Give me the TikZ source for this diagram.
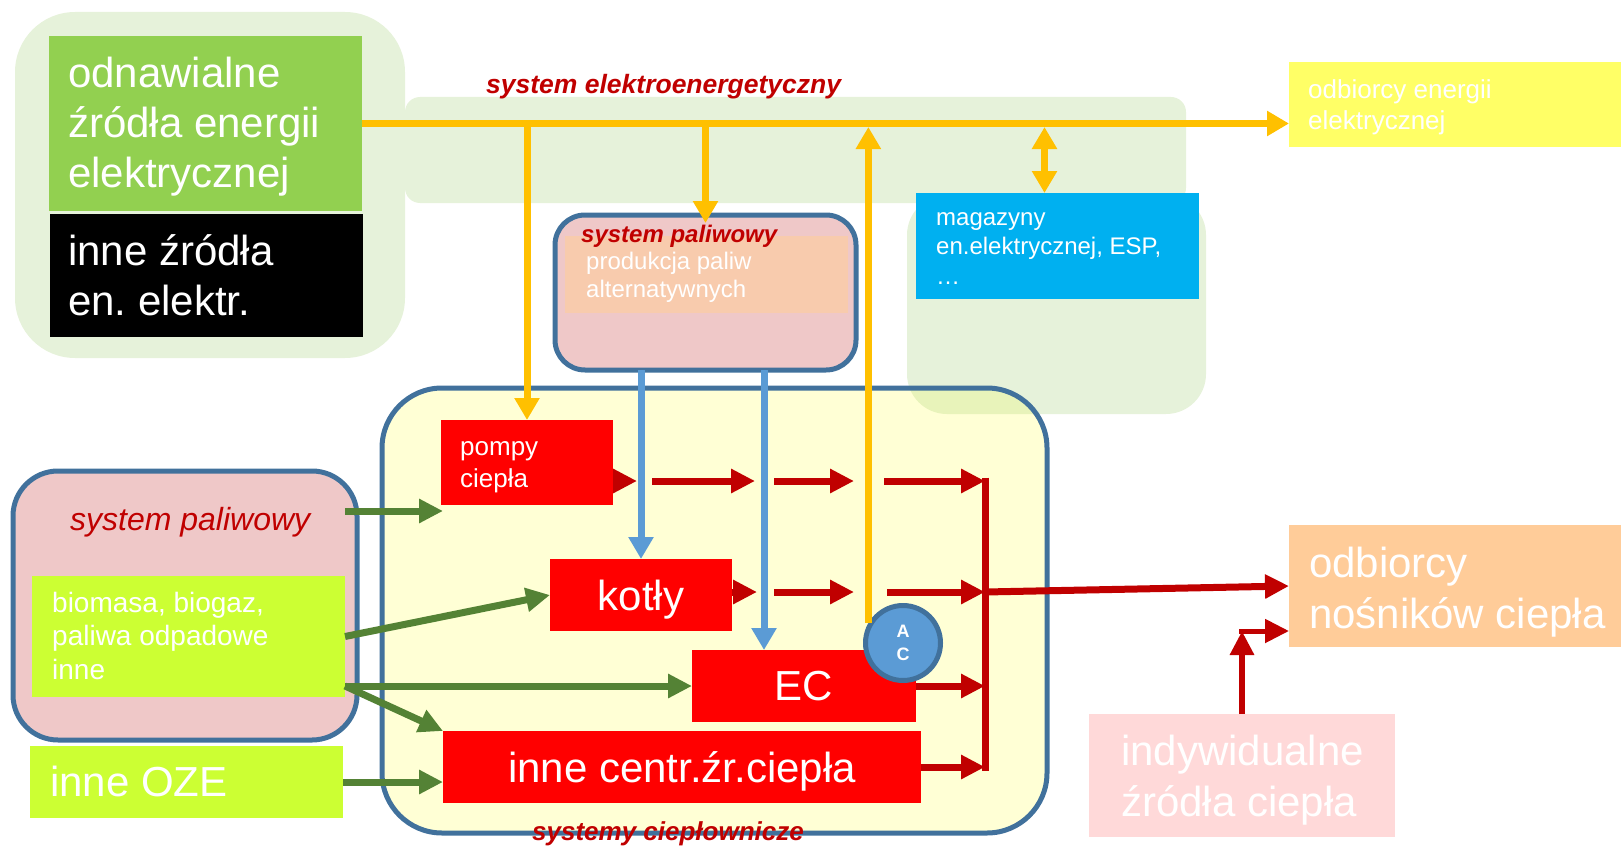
\documentclass[tikz,border=0pt]{standalone}
\usepackage{fontspec}
\setmainfont{Liberation Sans}
\usetikzlibrary{arrows.meta,calc}
\frenchspacing

\definecolor{panelgreen}{RGB}{230,242,218}
\definecolor{mixgreen}{RGB}{232,243,186}
\definecolor{heatfill}{RGB}{255,255,213}
\definecolor{fuelpink}{RGB}{239,200,200}
\definecolor{fuelorange}{RGB}{248,203,173}
\definecolor{frameblue}{RGB}{65,113,156}
\definecolor{srcgreen}{RGB}{146,208,80}
\definecolor{limefill}{RGB}{204,255,51}
\definecolor{storeblue}{RGB}{0,176,240}
\definecolor{consyellow}{RGB}{255,255,102}
\definecolor{consorange}{RGB}{255,204,153}
\definecolor{indpink}{RGB}{255,217,217}
\definecolor{plantred}{RGB}{255,0,0}
\definecolor{heatred}{RGB}{192,0,0}
\definecolor{powerline}{RGB}{255,192,0}
\definecolor{fuelline}{RGB}{91,155,213}
\definecolor{bioline}{RGB}{84,130,53}

\tikzset{
  box/.style={rectangle, draw=none, inner sep=0pt, outer sep=0pt, anchor=north west},
  panel/.style={box, fill=panelgreen},
  frame/.style={box, draw=frameblue, line width=5pt, fill=fuelpink},
  % multi-line labels are placed by the baseline of their last line
  txt/.style={text=white, inner sep=0pt, anchor=base west, align=left},
  ctxt/.style={text=white, inner sep=0pt, anchor=base},
  title/.style={text=heatred, inner sep=0pt, anchor=base west},
  tip/.style={-{Triangle[length=22pt,width=24pt]}},
  power/.style={draw=powerline, line width=7pt, tip},
  fuelarrow/.style={draw=fuelline, line width=7pt, tip},
  bioarrow/.style={draw=bioline, line width=7pt, -{Triangle[length=24pt,width=23pt]}},
  heatarrow/.style={draw=heatred, line width=7pt, -{Triangle[length=24pt,width=23pt]}},
  heatline/.style={draw=heatred, line width=7pt},
}

\begin{document}
\begin{tikzpicture}[x=1pt,y=-1pt]
\useasboundingbox (0,0) rectangle (1621,848);

% background panels of the power system
\node[panel, rounded corners=60pt, minimum width=390pt, minimum height=346pt] (elPanel) at (15,12) {};
\node[panel, rounded corners=15pt, minimum width=781pt, minimum height=106pt] (elBand) at (405,97) {};
\node[panel, rounded corners=40pt, minimum width=299pt, minimum height=219pt] (storePanel) at (907,195) {};

% district heating frame
\node[box, fill=heatfill, rounded corners=60pt, minimum width=665pt, minimum height=445pt] (heat) at (382,388) {};
\begin{scope}
  \clip[rounded corners=60pt] (heat.north west) rectangle (heat.south east);
  \fill[mixgreen, rounded corners=40pt] (storePanel.north west) rectangle (storePanel.south east);
\end{scope}
\draw[frameblue, line width=5pt, rounded corners=60pt] (heat.north west) rectangle (heat.south east);

% fuel systems
\node[frame, rounded corners=30pt, minimum width=301pt, minimum height=155pt] (fuelTop) at (555,215) {};
\node[box, fill=fuelorange, minimum width=283pt, minimum height=77pt] (prod) at (565,236) {};
\node[frame, rounded corners=45pt, minimum width=344pt, minimum height=269pt] (fuelLeft) at (13,471) {};

% boxes
\node[box, fill=limefill, minimum width=313pt, minimum height=121pt] (bio) at (32,576) {};
\node[box, fill=limefill, minimum width=313pt, minimum height=72pt] (oze) at (30,746) {};
\node[box, fill=srcgreen, minimum width=313pt, minimum height=175pt] (odn) at (49,36) {};
\node[box, fill=black, minimum width=313pt, minimum height=123pt] (conv) at (50,214) {};
\node[box, fill=consyellow, minimum width=332pt, minimum height=85pt] (odbE) at (1289,62) {};
\node[box, fill=storeblue, minimum width=283pt, minimum height=106pt] (mag) at (916,193) {};
\node[box, fill=plantred, minimum width=172pt, minimum height=85pt] (pompy) at (441,420) {};
\node[box, fill=plantred, minimum width=182pt, minimum height=72pt] (kotly) at (550,559) {};
\node[box, fill=plantred, minimum width=224pt, minimum height=72pt] (EC) at (692,650) {};
\node[box, fill=plantred, minimum width=478pt, minimum height=72pt] (other) at (443,731) {};
\node[box, fill=consorange, minimum width=332pt, minimum height=122pt] (heatOut) at (1289,525) {};
\node[box, fill=indpink, minimum width=306pt, minimum height=123pt] (indyw) at (1089,714) {};

% helper coordinates
\coordinate (busY) at (0,127);
\coordinate (magTap) at ($(mag.north)+(-13,0)$);
\coordinate (ecTap) at ($(EC.north west)+(72,0)$);
\coordinate (g1) at (443,511);
\coordinate (bus) at (985,0);
\coordinate (row1) at (0,481);
\coordinate (s1a) at (652,481);
\coordinate (s1b) at (755,481);
\coordinate (s2a) at (774,481);
\coordinate (s2b) at (854,481);
\coordinate (s3a) at (884,481);
\coordinate (k1a) at (774,592);
\coordinate (k1b) at (854,592);
\coordinate (k2a) at (887,592);
\coordinate (elbowY) at (0,631);

% AC unit
\node[circle, draw=frameblue, line width=5pt, fill=fuelline, minimum size=75pt, inner sep=0pt,
      text=white, align=center, font=\bfseries\fontsize{18}{23}\selectfont] (AC) at (903,643) {A\\C};

% electricity flows
\draw[power] (odn.east) -- (odn.east -| odbE.west);
\draw[power] (odn.east -| pompy.north) -- (pompy.north);
\draw[power] (odn.east -| fuelTop.north) -- ([yshift=-8pt]fuelTop.north);
\draw[power] (AC.150) -- (AC.150 |- busY);
\draw[power, {Triangle[length=22pt,width=24pt]}-{Triangle[length=22pt,width=24pt]}] (busY -| magTap) -- (magTap);

% fuel flows
\draw[fuelarrow] (fuelTop.south -| kotly.north) -- (kotly.north);
\draw[fuelarrow] (fuelTop.south -| ecTap) -- (ecTap);

% biomass and renewable inputs
\draw[bioarrow] (bio.east |- g1) -- (g1);
\draw[bioarrow] (bio.east) -- (kotly.west);
\draw[bioarrow] (bio.east |- EC.west) -- (EC.west);
\draw[bioarrow] (bio.east |- EC.west) -- (other.north west);
\draw[bioarrow] (oze.east) -- (oze.east -| other.west);

% heat flows
\draw[heatarrow] (pompy.east |- row1) -- ++(24,0);
\draw[heatarrow] (s1a) -- (s1b);
\draw[heatarrow] (s2a) -- (s2b);
\draw[heatarrow] (s3a) -- (bus |- row1);
\draw[heatarrow] (kotly.east |- k1a) -- ++(25,0);
\draw[heatarrow] (k1a) -- (k1b);
\draw[heatarrow] (k2a) -- (bus |- k2a);
\draw[heatarrow] (EC.east) -- (bus |- EC.east);
\draw[heatarrow] (other.east) -- (bus |- other.east);
\draw[heatline] ($(bus |- row1)+(0,-3.5)$) -- ($(bus |- other.east)+(0,3.5)$);
\draw[heatarrow] (bus |- k2a) -- (heatOut.west);
\draw[heatarrow, line width=6pt] (indyw.north) -- (indyw.north |- elbowY);
\draw[heatarrow, line width=5pt] ($(indyw.north |- elbowY)+(-3,0)$) -- (heatOut.west |- elbowY);

% labels
\node[title, font=\bfseries\itshape\fontsize{26.5}{30}\selectfont] (elTitle) at (486,94) {system elektroenergetyczny};
\node[title, font=\bfseries\itshape\fontsize{24}{28}\selectfont] (fuelTopTitle) at (581,242) {system paliwowy};
\node[title, font=\itshape\fontsize{32}{36}\selectfont] (fuelLeftTitle) at (70,530) {system paliwowy};
\node[title, font=\bfseries\itshape\fontsize{26}{30}\selectfont] (heatTitle) at (532,840) {systemy ciepłownicze};

\node[txt, font=\fontsize{42}{50}\selectfont] (odnT) at (68,187) {odnawialne\\źródła energii\\elektrycznej};
\node[txt, font=\fontsize{42}{50}\selectfont] (convT) at (68,315) {inne źródła\\en. elektr.};
\node[txt, font=\fontsize{24}{28}\selectfont] (prodT) at (586,297) {produkcja paliw\\alternatywnych};
\node[txt, font=\fontsize{24}{29.5}\selectfont] (magT) at (936,284) {magazyny\\en.elektrycznej, ESP,\\…};
\node[txt, font=\fontsize{26}{31}\selectfont] (odbET) at (1308,129) {odbiorcy energii\\elektrycznej};
\node[txt, font=\fontsize{26}{32}\selectfont] (pompyT) at (460,487) {pompy\\ciepła};
\node[txt, font=\fontsize{28}{33.5}\selectfont] (bioT) at (52,679) {biomasa, biogaz,\\paliwa odpadowe\\inne};
\node[txt, font=\fontsize{42}{50}\selectfont] (ozeT) at (50,796) {inne OZE};
\node[txt, font=\fontsize{42}{51}\selectfont] (heatOutT) at (1309,628) {odbiorcy\\nośników ciepła};
\node[txt, font=\fontsize{42}{51}\selectfont] (indywT) at (1121,816) {indywidualne\\źródła ciepła};
\node[ctxt, font=\fontsize{42}{50}\selectfont] (kotlyT) at ([yshift=-15pt]kotly.center) {kotły};
\node[ctxt, font=\fontsize{42}{50}\selectfont] (ECT) at ([yshift=-14pt]EC.center) {EC};
\node[ctxt, font=\fontsize{42}{50}\selectfont] (otherT) at ([yshift=-15pt]other.center) {inne centr.źr.ciepła};
\end{tikzpicture}
\end{document}
